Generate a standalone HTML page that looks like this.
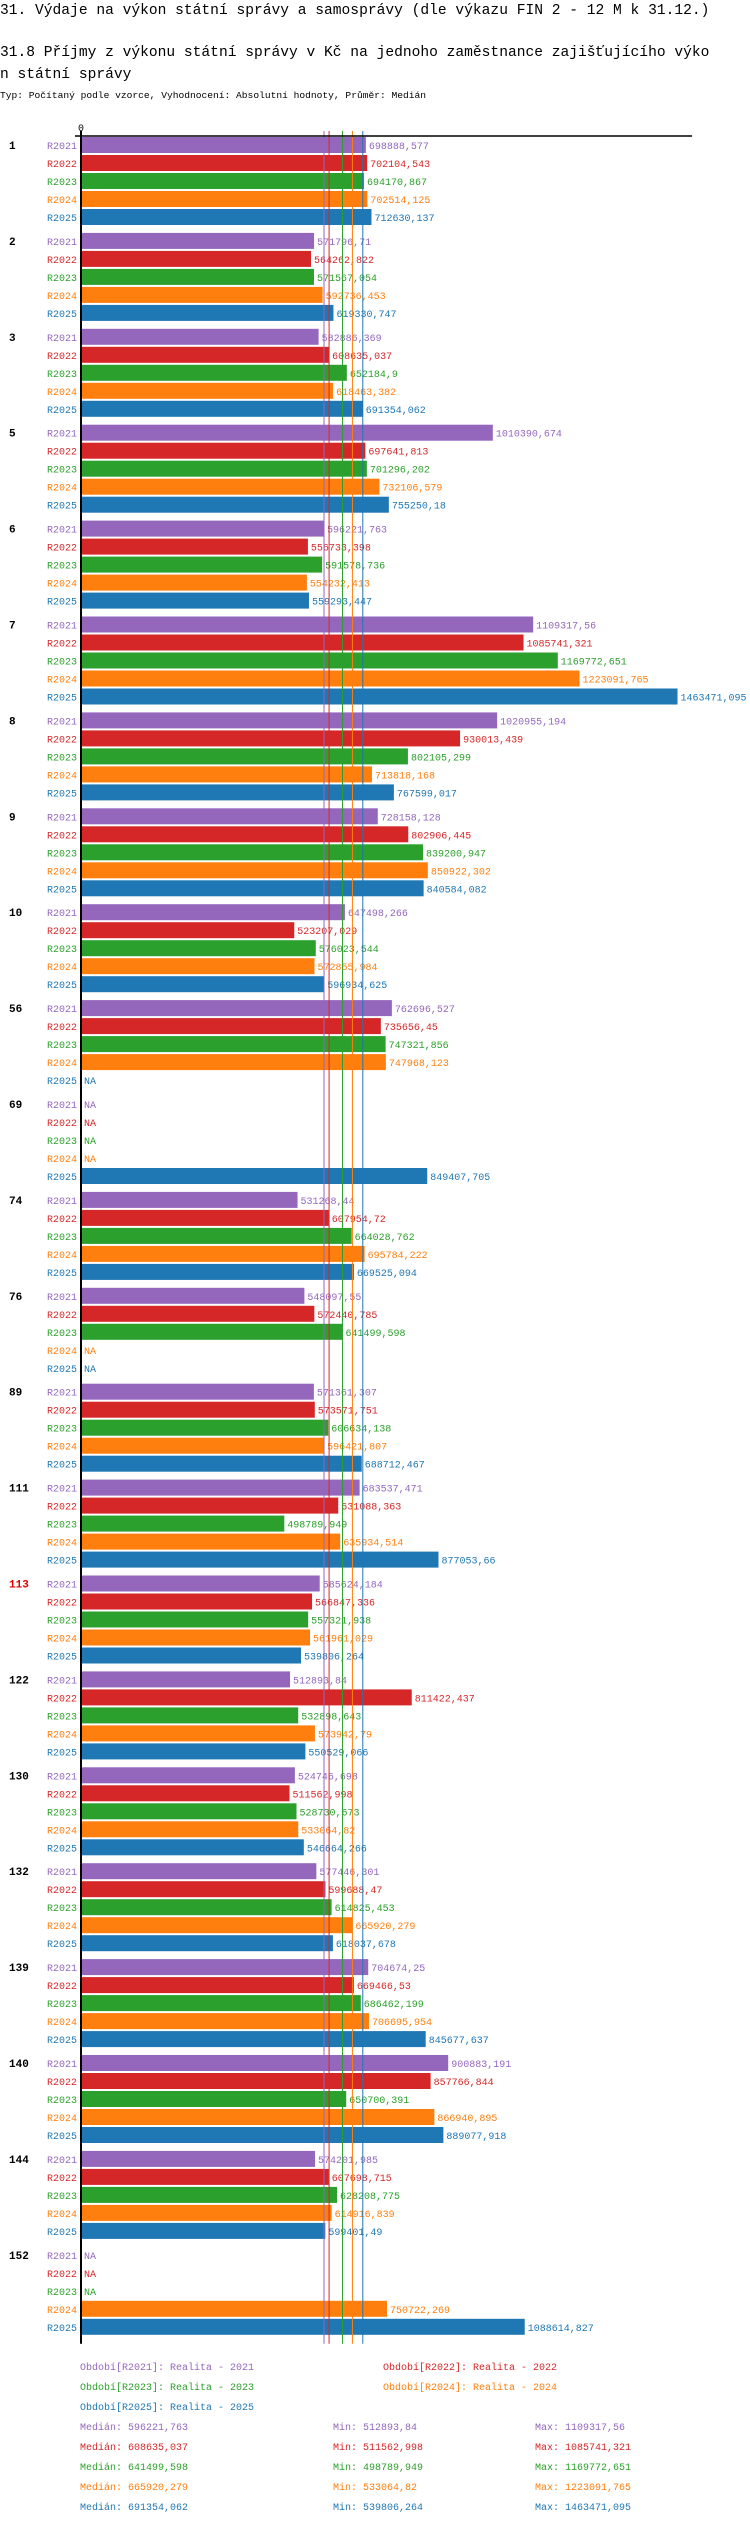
<!DOCTYPE html>
<html><head><meta charset="utf-8">
<style>
html,body{margin:0;padding:0;background:#fff;}
body{width:750px;height:2524px;overflow:hidden;position:relative;}
svg{position:absolute;left:0;top:0;}
text{font-family:"Liberation Mono","DejaVu Sans Mono",monospace;}
</style></head>
<body>
<svg id="chart" width="750" height="2524">
<text x="0" y="14" font-size="14.6">31. Výdaje na výkon státní správy a samosprávy (dle výkazu FIN 2 - 12 M k 31.12.)</text>
<text x="0" y="56" font-size="14.6">31.8 Příjmy z výkonu státní správy v Kč na jednoho zaměstnance zajišťujícího výko</text>
<text x="0" y="78" font-size="14.6">n státní správy</text>
<text x="0" y="98" font-size="9.6">Typ: Počítaný podle vzorce, Vyhodnocení: Absolutní hodnoty, Průměr: Medián</text>
</svg>
<script>
const categories = ["1","2","3","5","6","7","8","9","10","56","69","74","76","89","111","113","122","130","132","139","140","144","152"];
const seriesNames = ["R2021","R2022","R2023","R2024","R2025"];
const s2021 = [698888.577,571796.71,582886.369,1010390.674,596221.763,1109317.56,1020955.194,728158.128,647498.266,762696.527,null,531268.44,548097.55,571361.307,683537.471,585624.184,512893.84,524746.698,577446.301,704674.25,900883.191,574201.985,null];
const s2022 = [702104.543,564262.822,608635.037,697641.813,556733.398,1085741.321,930013.439,802906.445,523207.029,735656.45,null,607954.72,572440.785,573571.751,631088.363,566847.336,811422.437,511562.998,599688.47,669466.53,857766.844,607698.715,null];
const s2023 = [694170.867,571567.054,652184.9,701296.202,591578.736,1169772.651,802105.299,839200.947,576023.544,747321.856,null,664028.762,641499.598,606634.138,498789.949,557321.938,532898.643,528730.673,614825.453,686462.199,650700.391,628208.775,null];
const s2024 = [702514.125,592736.453,618463.382,732106.579,554232.413,1223091.765,713818.168,850922.302,572855.984,747968.123,null,695784.222,null,596421.807,635934.514,561961.029,573942.79,533064.82,665920.279,706695.954,866940.895,614916.839,750722.269];
const s2025 = [712630.137,619330.747,691354.062,755250.18,559293.447,1463471.095,767599.017,840584.082,596934.625,null,849407.705,669525.094,null,688712.467,877053.66,539806.264,550529.066,546664.266,618037.678,845677.637,889077.918,599401.49,1088614.827];
const medians = [596221.763,608635.037,641499.598,665920.279,691354.062];
const mins = ["512893,84","511562,998","498789,949","533064,82","539806,264"];
const maxs = ["1109317,56","1085741,321","1169772,651","1223091,765","1463471,095"];
const medianLabels = ["596221,763","608635,037","641499,598","665920,279","691354,062"];
const legendLabels = ["Období[R2021]: Realita - 2021","Období[R2022]: Realita - 2022","Období[R2023]: Realita - 2023","Období[R2024]: Realita - 2024","Období[R2025]: Realita - 2025"];

const colors = ["#9467bd","#d62728","#2ca02c","#ff7f0e","#1f77b4"];
const series = [s2021,s2022,s2023,s2024,s2025];
const NS = "http://www.w3.org/2000/svg";
const svg = document.getElementById("chart");
const X0 = 81, K = 0.0004076, TOP = 137, GP = 95.9, BP = 18, BH = 16;
const xs = v => X0 + v * K;
const ys = (g, s) => TOP + g * GP + s * BP;
function mk(tag, attrs, txt){
  const e = document.createElementNS(NS, tag);
  for (const k in attrs) e.setAttribute(k, attrs[k]);
  if (txt !== undefined) e.textContent = txt;
  svg.appendChild(e);
  return e;
}
function fmt(v){ return String(v).replace(".", ","); }

let e = mk("text", {x: X0 - 3, y: 131, "font-size": 10}, "0");



const lastY = ys(categories.length - 1, 4) + BH + 9;

categories.forEach((c, g) => {
  const gl = mk("text", {x: 9, y: ys(g, 0) + 12, "font-size": 11, "font-weight": "bold", fill: c === "113" ? "#e00000" : "#000"}, c);
  
  
  series.forEach((arr, s) => {
    const y = ys(g, s);
    const sl = mk("text", {x: 77, y: y + 12, "font-size": 10, fill: colors[s], "text-anchor": "end"}, seriesNames[s]);
    
    
    const v = arr[g];
    if (v === null) {
      const na = mk("text", {x: 84, y: y + 12, "font-size": 10, fill: colors[s]}, "NA");
      
      
    } else {
      const r = mk("rect", {x: X0, y: y, width: xs(v) - X0, height: BH, fill: colors[s]});
      
      
      const vl = mk("text", {x: xs(v) + 3, y: y + 12, "font-size": 10, fill: colors[s]}, fmt(v));
      
      
    }
  });
});

medians.forEach((m, s) => {
  const l = mk("line", {x1: xs(m), x2: xs(m), y1: 131, y2: lastY, stroke: colors[s], "stroke-width": 1});
  
  
});

e = mk("line", {x1: 75, x2: 692, y1: 136, y2: 136, stroke: "#000", "stroke-width": 1.5});


e = mk("line", {x1: X0, x2: X0, y1: 131, y2: lastY, stroke: "#000", "stroke-width": 2});



const legPos = [[80,2370],[383,2370],[80,2390],[383,2390],[80,2410]];
legendLabels.forEach((t, s) => {
  const le = mk("text", {x: legPos[s][0], y: legPos[s][1], "font-size": 10, fill: colors[s]}, t);
  
  
});
medianLabels.forEach((t, s) => {
  const y = 2430 + s * 20;
  const a = mk("text", {x: 80, y: y, "font-size": 10, fill: colors[s]}, "Medián: " + t);
  
  
  const b = mk("text", {x: 333, y: y, "font-size": 10, fill: colors[s]}, "Min: " + mins[s]);
  
  
  const d = mk("text", {x: 535, y: y, "font-size": 10, fill: colors[s]}, "Max: " + maxs[s]);
  
  
});
</script>
</body></html>
